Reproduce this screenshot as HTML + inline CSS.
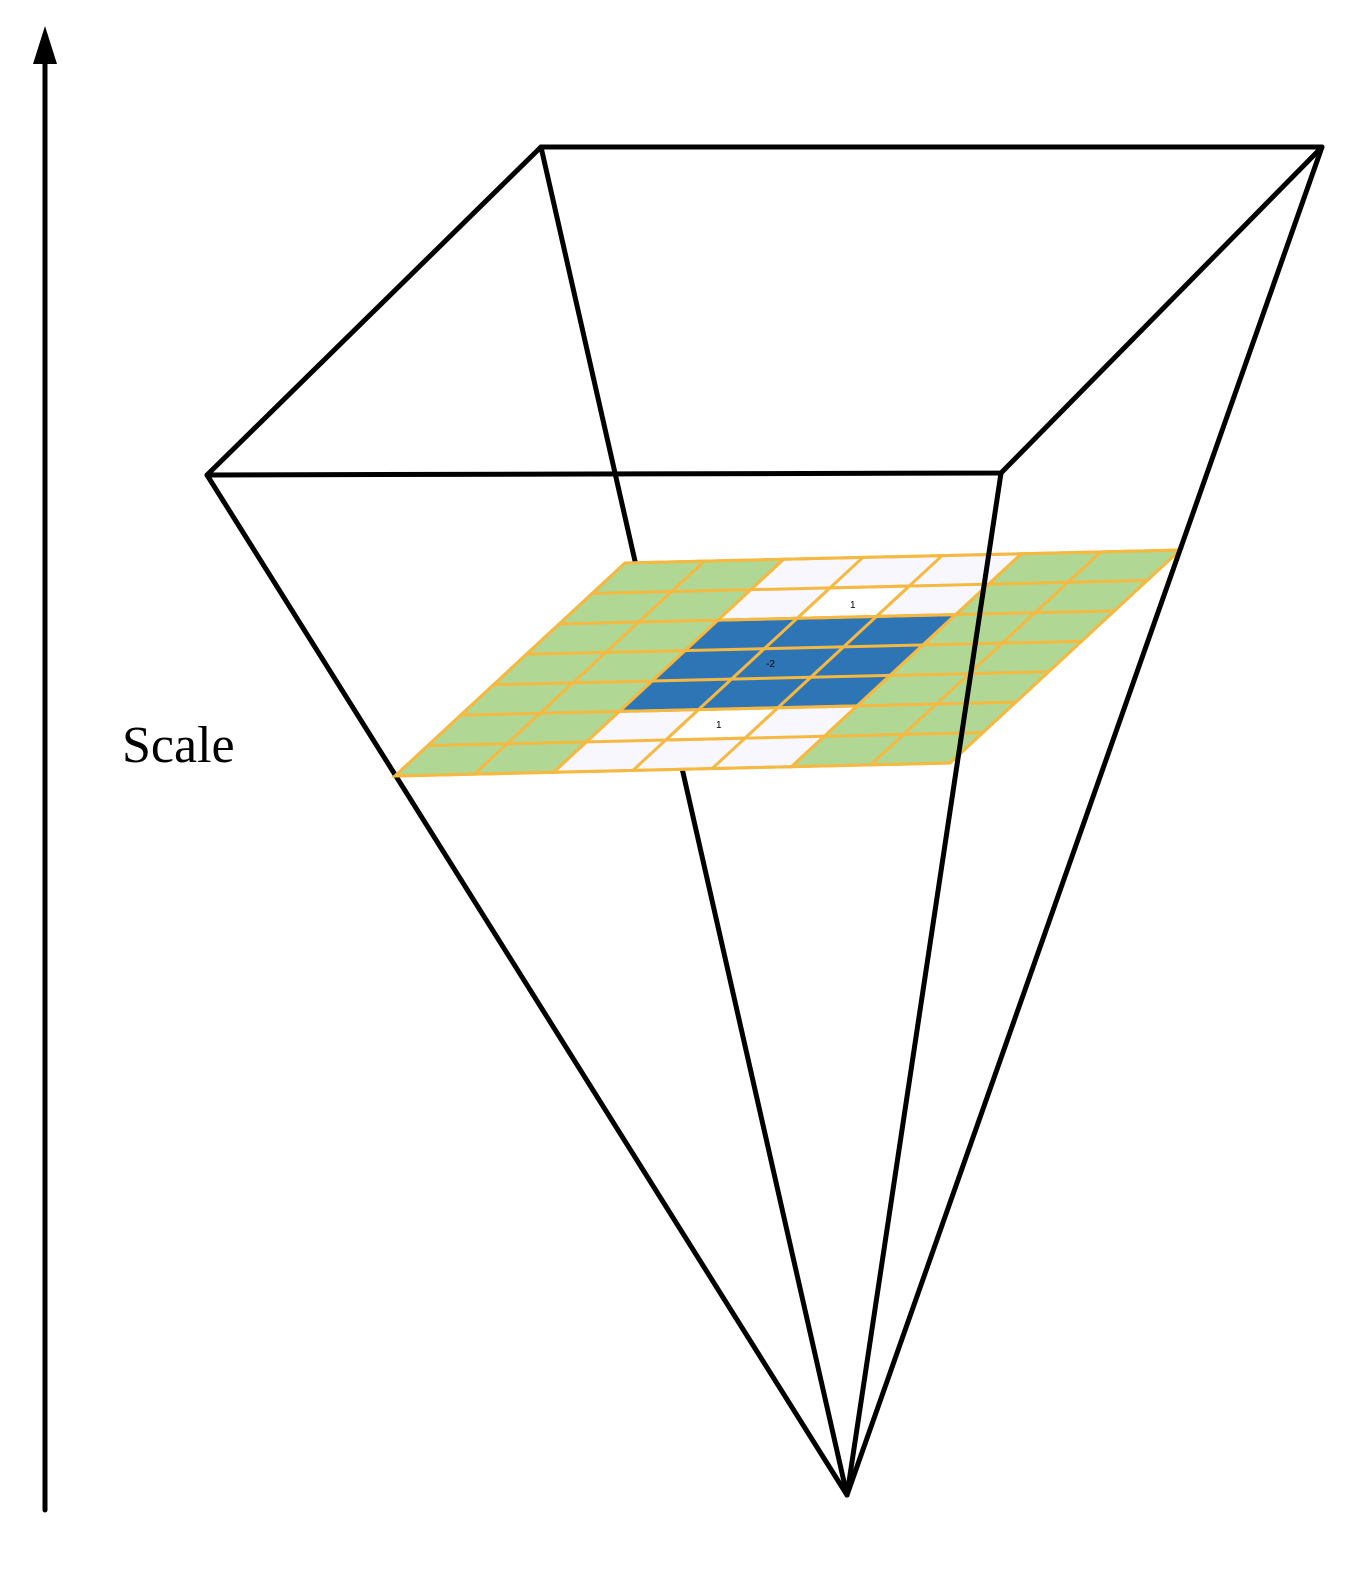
<!DOCTYPE html>
<html><head><style>html,body{margin:0;padding:0;background:#fff}</style></head>
<body>
<svg width="1371" height="1590" viewBox="0 0 1371 1590" xmlns="http://www.w3.org/2000/svg">
<g stroke="#000" stroke-width="5" fill="none" stroke-linecap="round" stroke-linejoin="round">
<line x1="45" y1="1510" x2="45" y2="60"/>
<line x1="541" y1="147" x2="847" y2="1495"/>
<line x1="207" y1="475" x2="847" y2="1495"/>
</g>
<polygon points="45,26 33,64 57,64" fill="#000"/>
<g transform="matrix(79.29 -1.857 -32.86 30.43 625 563)" stroke="#f5b942" stroke-width="3">
<g fill="#b0d894">
<rect x="0" y="0" width="2" height="7" vector-effect="non-scaling-stroke"/>
<rect x="5" y="0" width="2" height="7" vector-effect="non-scaling-stroke"/>
</g>
<g fill="#f7f7fd">
<rect x="2" y="0" width="3" height="2" vector-effect="non-scaling-stroke"/>
<rect x="2" y="5" width="3" height="2" vector-effect="non-scaling-stroke"/>
</g>
<g fill="#fff">
<rect x="3" y="1" width="1" height="1" vector-effect="non-scaling-stroke"/>
<rect x="3" y="5" width="1" height="1" vector-effect="non-scaling-stroke"/>
</g>
<rect x="2" y="2" width="3" height="3" fill="#2e75b6" vector-effect="non-scaling-stroke"/>
<g fill="none">
<line x1="1" y1="0" x2="1" y2="7" vector-effect="non-scaling-stroke"/>
<line x1="2" y1="0" x2="2" y2="7" vector-effect="non-scaling-stroke"/>
<line x1="3" y1="0" x2="3" y2="7" vector-effect="non-scaling-stroke"/>
<line x1="4" y1="0" x2="4" y2="7" vector-effect="non-scaling-stroke"/>
<line x1="5" y1="0" x2="5" y2="7" vector-effect="non-scaling-stroke"/>
<line x1="6" y1="0" x2="6" y2="7" vector-effect="non-scaling-stroke"/>
<line x1="0" y1="1" x2="7" y2="1" vector-effect="non-scaling-stroke"/>
<line x1="0" y1="2" x2="7" y2="2" vector-effect="non-scaling-stroke"/>
<line x1="0" y1="3" x2="7" y2="3" vector-effect="non-scaling-stroke"/>
<line x1="0" y1="4" x2="7" y2="4" vector-effect="non-scaling-stroke"/>
<line x1="0" y1="5" x2="7" y2="5" vector-effect="non-scaling-stroke"/>
<line x1="0" y1="6" x2="7" y2="6" vector-effect="non-scaling-stroke"/>
<rect x="0" y="0" width="7" height="7" vector-effect="non-scaling-stroke"/>
</g>
</g>
<g stroke="#000" stroke-width="5" fill="none" stroke-linecap="round" stroke-linejoin="round">
<polyline points="541,147 1322,147 1001,473 207,475 541,147"/>
<line x1="1001" y1="473" x2="847" y2="1495"/>
<line x1="1322" y1="147" x2="847" y2="1495"/>
</g>
<text x="122" y="762" font-family="Liberation Serif, serif" font-size="52" fill="#000">Scale</text>
<text x="850" y="608" font-family="Liberation Sans, sans-serif" font-size="10" fill="#000">1</text>
<text x="766" y="667" font-family="Liberation Sans, sans-serif" font-size="10" fill="#000">-2</text>
<text x="716" y="728" font-family="Liberation Sans, sans-serif" font-size="10" fill="#000">1</text>
</svg>
</body></html>
